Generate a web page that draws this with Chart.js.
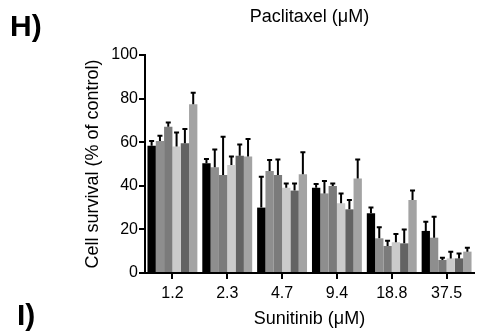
<!DOCTYPE html>
<html>
<head>
<meta charset="utf-8">
<script src="https://cdn.jsdelivr.net/npm/chart.js@4/dist/chart.umd.min.js"></script>
<style>
  body { margin: 0; background: #fff; }
  #wrap { position: relative; width: 477px; height: 331px; }
  .panel { position: absolute; font-family: 'Liberation Sans', Arial, sans-serif; font-weight: bold; font-size: 30px; color: #000; line-height: 1; }
</style>
</head>
<body>
<div id="wrap">
  <canvas id="chart" width="477" height="331"></canvas>
  <div class="panel" style="left:10px; top:11px;">H)</div>
  <div class="panel" style="left:17px; top:300px;">I)</div>
</div>
<script>
// Sunitinib concentrations (uM)
var categories = ['1.2', '2.3', '4.7', '9.4', '18.8', '37.5'];
// paclitaxel series, means (% of control)
var s1 = [58.4, 50.3, 30.0, 39.1, 27.4, 19.3];
var s2 = [60.5, 48.5, 46.8, 36.5, 15.9, 16.2];
var s3 = [67.1, 45.0, 45.0, 39.9, 12.4, 6.0];
var s4 = [58.0, 49.5, 39.1, 32.0, 14.1, 6.7];
var s5 = [59.5, 53.8, 37.8, 29.2, 13.6, 6.7];
var s6 = [77.4, 53.4, 45.3, 43.4, 33.5, 9.8];
// upper error
var e1 = [2.2, 2.0, 14.2, 1.7, 2.7, 4.2];
var e2 = [2.5, 8.2, 5.0, 5.7, 5.1, 9.6];
var e3 = [1.9, 17.5, 7.1, 1.2, 2.4, 1.0];
var e4 = [6.5, 3.9, 2.0, 4.5, 3.8, 3.1];
var e5 = [6.5, 5.2, 3.3, 4.3, 6.4, 2.3];
var e6 = [5.3, 8.1, 10.1, 8.7, 4.3, 1.8];
var yTicks = [0, 20, 40, 60, 80, 100];

var means = [s1, s2, s3, s4, s5, s6];
var errs = [e1, e2, e3, e4, e5, e6];
var colors = ['#000000', '#8e8e8e', '#7b7b7b', '#cbcbcb', '#636363', '#a3a3a3'];

var font = "'Liberation Sans', Arial, sans-serif";

// error bars (upper only)
var errorBars = {
  id: 'errorBars',
  afterDatasetsDraw: function(chart) {
    var ctx = chart.ctx;
    var y = chart.scales.y;
    ctx.save();
    ctx.strokeStyle = '#000';
    ctx.lineWidth = 2;
    chart.data.datasets.forEach(function(ds, i) {
      var meta = chart.getDatasetMeta(i);
      meta.data.forEach(function(bar, j) {
        var top = y.getPixelForValue(ds.data[j] + ds.errors[j]);
        ctx.beginPath();
        ctx.moveTo(bar.x, bar.y);
        ctx.lineTo(bar.x, top);
        ctx.moveTo(bar.x - 2.5, top);
        ctx.lineTo(bar.x + 2.5, top);
        ctx.stroke();
      });
    });
    ctx.restore();
  }
};

new Chart(document.getElementById('chart'), {
  type: 'bar',
  data: {
    labels: categories,
    datasets: means.map(function(m, i) {
      return {
        label: 'Paclitaxel ' + (i + 1),
        data: m,
        errors: errs[i],
        backgroundColor: colors[i],
        borderWidth: 0,
        barPercentage: 1.0,
        categoryPercentage: 0.91
      };
    })
  },
  options: {
    responsive: false,
    animation: false,
    layout: { padding: { left: 80, right: 3, top: 0, bottom: 0 } },
    plugins: {
      legend: { display: false },
      tooltip: { enabled: false }
    },
    scales: {
      x: {
        position: 'bottom',
        grid: { display: true, drawOnChartArea: false, offset: false, color: '#000', lineWidth: 2, tickLength: 6 },
        border: { color: '#000', width: 2 },
        ticks: { color: '#000', padding: 5, font: { family: font, size: 16 } },
        title: { display: true, text: 'Sunitinib (\u03bcM)', color: '#000', padding: { top: 4, bottom: 1 }, font: { family: font, size: 18 } },
        afterFit: function(s) { s.height = 58; }
      },
      x2: {
        type: 'category',
        position: 'top',
        labels: categories,
        grid: { display: false },
        border: { display: false },
        ticks: { display: false },
        title: { display: true, text: 'Paclitaxel (\u03bcM)', color: '#000', padding: { top: 6, bottom: 4 }, font: { family: font, size: 18 } },
        afterFit: function(s) { s.height = 55; }
      },
      y: {
        min: 0,
        max: 100,
        afterBuildTicks: function(s) { s.ticks = yTicks.map(function(v) { return { value: v }; }); },
        grid: { display: true, drawOnChartArea: false, color: '#000', lineWidth: 2, tickLength: 6 },
        border: { color: '#000', width: 2 },
        ticks: { color: '#000', padding: 1, font: { family: font, size: 16 } },
        title: { display: true, text: 'Cell survival (% of control)', color: '#000', padding: { top: 2, bottom: 4 }, font: { family: font, size: 18 } },
        afterFit: function(s) { s.width = 65; }
      }
    }
  },
  plugins: [errorBars]
});
</script>
</body>
</html>
